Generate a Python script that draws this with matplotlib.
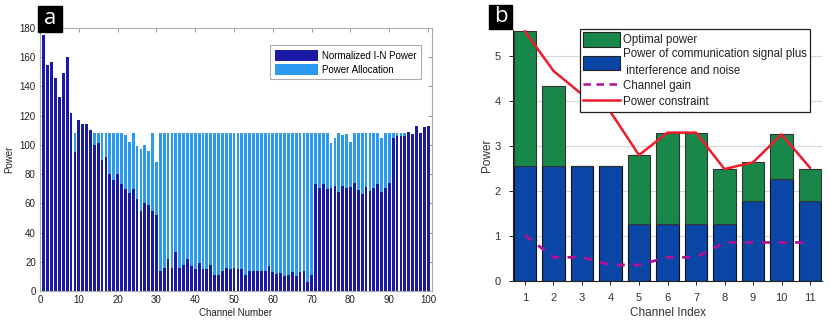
import matplotlib
matplotlib.use("Agg")
import matplotlib.pyplot as plt
from matplotlib.patches import Rectangle
from matplotlib.lines import Line2D
import numpy as np

plt.rcParams['font.family'] = ['Liberation Sans', 'DejaVu Sans']

# ---------------- Panel a data ----------------
channels_a = list(range(1, 101))
noise_power = [175, 155, 157, 146, 133, 149, 160, 122, 95, 117,
               114, 114, 110, 100, 101, 90, 92, 80, 76, 80,
               73, 70, 67, 70, 63, 55, 60, 59, 55, 52,
               14, 16, 22, 16, 27, 16, 18, 22, 17, 15,
               19, 15, 15, 18, 11, 11, 14, 16, 15, 16,
               15, 15, 11, 14, 13.5, 13.5, 13.5, 14, 17, 13,
               11.5, 12.5, 10.5, 11, 13, 10, 13, 14, 6.5, 11,
               73.4, 70.6, 72.9, 69.9, 70.6, 72.2, 67.7, 71.8, 70.2, 71.3,
               73.6, 69.1, 66.6, 71.3, 68.4, 70.2, 72.9, 67.7, 70.2, 74.1,
               104.4, 106, 106, 106, 109, 107.6, 113, 108, 112, 113]
# top of the allocation bar (water level) per channel
alloc_top = [0, 0, 0, 0, 0, 0, 0, 0, 108, 0,
             0, 0, 0, 108, 108, 108, 108, 108, 108, 108,
             108, 107, 102, 108, 99, 97.5, 99.8, 96, 108, 88,
             108, 108, 108, 108, 108, 108, 108, 108, 108, 108,
             108, 108, 108, 108, 108, 108, 108, 108, 108, 108,
             108, 108, 108, 108, 108, 108, 108, 108, 108, 108,
             108, 108, 108, 108, 108, 108, 108, 108, 108, 108,
             108, 108, 108, 108, 101.4, 105, 108, 106.6, 107.6, 102,
             108, 108, 108, 108, 108, 108, 108, 104.4, 108, 108,
             108, 108, 108, 108, 0, 0, 0, 0, 0, 0]
xticks_a = list(range(0, 101, 10))
yticks_a = list(range(0, 181, 20))

# ---------------- Panel b data ----------------
channels_b = list(range(1, 12))
signal_power = [2.54, 2.54, 2.54, 2.54, 1.27, 1.27, 1.27, 1.27, 1.78, 2.27, 1.78]
total_power = [5.54, 4.32, 2.54, 2.54, 2.79, 3.29, 3.29, 2.48, 2.63, 3.25, 2.49]
channel_gain = [1.01, 0.52, 0.52, 0.35, 0.35, 0.52, 0.52, 0.85, 0.85, 0.85, 0.85]
power_constraint = [5.54, 4.66, 4.14, 3.75, 2.79, 3.29, 3.29, 2.48, 2.63, 3.25, 2.51]

W, H = 830, 328
fig = plt.figure(figsize=(W / 100, H / 100), dpi=100)

def fax(l, t, r, b):
    return fig.add_axes([l / W, 1 - b / H, (r - l) / W, (b - t) / H])

# ---------------- Panel a ----------------
ax = fax(40, 28, 432, 291)
dark = '#1a1aa6'
light = '#2b9af0'
noise = np.array(noise_power, dtype=float)
top = np.array(alloc_top, dtype=float)
alloc = np.clip(top - noise, 0, None)
ax.bar(channels_a, noise, width=0.72, color=dark, linewidth=0,
       label='Normalized I-N Power', zorder=2)
ax.bar(channels_a, alloc, bottom=noise, width=0.72, color=light, linewidth=0,
       label='Power Allocation', zorder=2)
ax.set_xlim(0, 101)
ax.set_ylim(0, 180)
ax.set_xticks(xticks_a)
ax.set_yticks(yticks_a)
ax.tick_params(direction='in', top=True, right=True, labelsize=7,
               length=3, width=0.6, color='#888888', labelcolor='#222222', pad=3)
for s in ax.spines.values():
    s.set_color('#aaaaaa')
    s.set_linewidth(0.8)
ax.set_xlabel('Channel Number', fontsize=7, color='#222222', labelpad=2)
ax.set_ylabel('Power', fontsize=7, color='#222222', labelpad=4)
leg = ax.legend(loc='upper left', bbox_to_anchor=(0.587, 0.935), fontsize=7,
                frameon=True, fancybox=False, edgecolor='#999999',
                borderaxespad=0, handlelength=4.4, handleheight=1.3,
                labelspacing=0.35, borderpad=0.5, handletextpad=0.4)
leg.get_frame().set_linewidth(0.8)

# label a
fig.patches.append(Rectangle((38 / W, 1 - 32 / H), 24 / W, 26 / H,
                             transform=fig.transFigure, color='black'))
fig.text(50 / W, 1 - 18 / H, 'a', color='white', fontsize=16,
         ha='center', va='center', family=['Open Sans', 'DejaVu Sans'])

# ---------------- Panel b ----------------
bx = fax(513.3, 30, 821.7, 280.7)
green = '#17874a'
blue = '#0a46a6'
sig = np.array(signal_power)
opt = np.array(total_power) - sig
bx.set_axisbelow(True)
bx.grid(axis='y', color='#d8d8d8', linewidth=0.9)
bx.bar(channels_b, sig, width=0.8, color=blue, edgecolor='#111111',
       linewidth=0.8, zorder=2)
bx.bar(channels_b, opt, bottom=sig, width=0.8, color=green,
       edgecolor='#333333', linewidth=0.8, zorder=2)
bx.plot(channels_b, channel_gain, color='#b0109a', linestyle=(0, (3, 3)),
        linewidth=2, zorder=3)
bx.plot(channels_b, power_constraint, color='#ec1c2c', linewidth=1.8, zorder=4)
bx.set_xlim(0.59, 11.41)
bx.set_ylim(0, 5.57)
bx.set_xticks(channels_b)
bx.set_yticks([0, 1, 2, 3, 4, 5])
bx.spines['top'].set_visible(False)
bx.spines['right'].set_visible(False)
for s in ['left', 'bottom']:
    bx.spines[s].set_color('#222222')
    bx.spines[s].set_linewidth(0.8)
bx.tick_params(direction='out', labelsize=8, length=3, width=0.7,
               color='#222222', labelcolor='#333333', pad=6)
bx.set_xlabel('Channel Index', fontsize=8.5, color='#333333', labelpad=3)
bx.set_ylabel('Power', fontsize=8.5, color='#333333', labelpad=1)

handles = [Rectangle((0, 0), 1, 1, fc=green, ec='#222222', lw=0.8),
           Rectangle((0, 0), 1, 1, fc=blue, ec='#222222', lw=0.8),
           Line2D([], [], color='#b0109a', linestyle=(0, (3, 2.2)), lw=1.8),
           Line2D([], [], color='#ec1c2c', lw=1.8)]
labels = ['Optimal power',
          'Power of communication signal plus\n interference and noise',
          'Channel gain', 'Power constraint']
lb = bx.legend(handles, labels, loc='upper left', bbox_to_anchor=(0.216, 1.004),
               fontsize=8.3, frameon=True, fancybox=False, edgecolor='#222222',
               framealpha=1, borderaxespad=0, handlelength=3.2, handleheight=1.5,
               labelspacing=0.15, borderpad=0.3, handletextpad=0.25)
lb.get_frame().set_linewidth(0.9)
for t in lb.get_texts():
    t.set_color('#222222')
    t.set_linespacing(1.5)

# label b
fig.patches.append(Rectangle((489 / W, 1 - 29 / H), 23 / W, 24 / H,
                             transform=fig.transFigure, color='black'))
fig.text(500.5 / W, 1 - 16.5 / H, 'b', color='white', fontsize=16,
         ha='center', va='center', family=['Open Sans', 'DejaVu Sans'])

fig.savefig('out.png', dpi=100)
